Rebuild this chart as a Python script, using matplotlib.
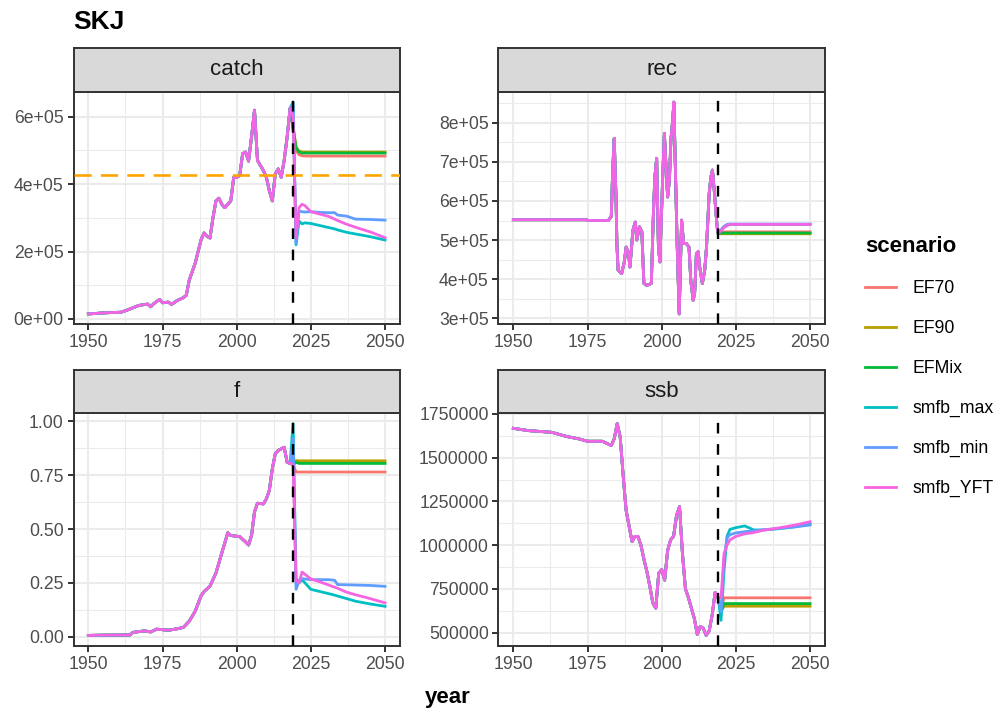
import numpy as np
import matplotlib
matplotlib.use("Agg")
import matplotlib.pyplot as plt
from matplotlib.lines import Line2D

plt.rcParams['font.family'] = ['Liberation Sans', 'DejaVu Sans']

scenarios = ["EF70", "EF90", "EFMix", "smfb_max", "smfb_min", "smfb_YFT"]
colours = ["#F8766D", "#B79F00", "#00BA38", "#00BFC4", "#619CFF", "#F564E3"]

# historic part, shared by every scenario
catch_hist_year = [1950, 1952, 1955, 1958, 1961, 1963, 1965, 1967, 1969, 1970, 1971, 1972,
                   1974, 1975, 1977, 1978, 1980, 1982, 1983, 1984, 1986, 1988, 1989, 1990,
                   1991, 1992, 1993, 1994, 1995, 1996, 1997, 1998, 1999, 2000, 2001, 2002,
                   2003, 2004, 2005, 2006, 2007, 2008, 2009, 2010, 2011, 2012, 2013, 2014,
                   2015, 2016, 2017, 2018]
catch_hist = [15, 16, 18, 19, 20, 26, 33, 40, 43, 44, 36, 45,
              58, 48, 50, 43, 55, 63, 70, 115, 165, 235, 255, 245,
              240, 300, 350, 358, 340, 330, 340, 350, 420, 420, 425, 490,
              495, 468, 540, 619, 470, 455, 440, 420, 380, 350, 430, 445,
              420, 470, 540, 625]

rec_hist_year = [1950, 1974.7, 1975, 1982, 1983, 1983.5, 1984, 1984.6, 1984.9, 1985.3, 1986.5,
                 1987.4, 1988, 1988.8, 1989.3, 1990.3, 1991.1, 1991.6, 1992.5, 1993.3, 1994,
                 1995, 1996.5, 1997.2, 1997.7, 1998.3, 1998.9, 1999.4, 2000.3, 2000.9, 2001.4,
                 2002, 2002.6, 2003.1, 2003.7, 2004.1, 2004.7, 2005.2, 2005.9, 2006.7, 2007.4,
                 2008.3, 2009.2, 2009.8, 2010.6, 2011.1, 2011.7, 2012.3, 2012.8, 2013.7, 2014.5,
                 2015.1, 2016, 2016.6, 2017.1, 2017.7, 2018.3, 2018.8]
rec_hist = [552, 552, 550, 550, 560, 680, 760, 610, 491, 423, 414,
            444, 482, 466, 431, 525, 546, 500, 534, 521, 389,
            384, 389, 568, 662, 709, 482, 444, 653, 773, 696,
            610, 653, 756, 807, 853, 653, 491, 311, 551, 491,
            491, 482, 397, 346, 364, 466, 470, 431, 389, 423,
            482, 619, 662, 679, 628, 568, 525]

f_hist_year = [1950, 1954, 1964, 1965, 1969, 1971, 1973, 1977, 1980, 1982, 1984, 1986, 1988,
               1989, 1991, 1993, 1995, 1997, 1998, 2001, 2003, 2004, 2005, 2006, 2007, 2009,
               2010, 2011, 2012, 2013, 2014, 2015, 2016, 2017, 2018]
f_hist = [0.006, 0.007, 0.008, 0.02, 0.027, 0.022, 0.035, 0.03, 0.037, 0.043, 0.072, 0.118, 0.19,
          0.21, 0.235, 0.295, 0.39, 0.483, 0.47, 0.465, 0.44, 0.426, 0.47, 0.58, 0.62, 0.617,
          0.64, 0.68, 0.78, 0.85, 0.865, 0.873, 0.88, 0.81, 0.805]

ssb_hist_year = [1950, 1955, 1963, 1968, 1972, 1975, 1980, 1983, 1984, 1985, 1986, 1987, 1988,
                 1989, 1990, 1991, 1992, 1993, 1994, 1995, 1996, 1997, 1998, 1999, 2000, 2001,
                 2002, 2003, 2004, 2005, 2006, 2007, 2008, 2009, 2010, 2011, 2012, 2013, 2014,
                 2015, 2016, 2017, 2018]
ssb_hist = [1.668, 1.655, 1.645, 1.621, 1.608, 1.594, 1.594, 1.57, 1.608, 1.695, 1.62, 1.40, 1.20,
            1.11, 1.02, 1.05, 1.05, 1.00, 0.92, 0.85, 0.765, 0.67, 0.64, 0.84, 0.86, 0.80,
            0.97, 1.03, 1.05, 1.17, 1.22, 0.95, 0.75, 0.70, 0.64, 0.58, 0.49, 0.535, 0.525,
            0.484, 0.51, 0.60, 0.73]

# projections
proj_year = [2019, 2020, 2021, 2022, 2023, 2025, 2028, 2031, 2033, 2034, 2037, 2040, 2045, 2050]

catch_proj = {
    "EF70":     [560, 500, 487, 484, 483, 483, 483, 483, 483, 483, 483, 483, 483, 483],
    "EF90":     [570, 510, 498, 495, 495, 495, 495, 495, 495, 495, 495, 495, 495, 495],
    "EFMix":    [568, 507, 495, 492, 492, 492, 492, 492, 492, 492, 492, 492, 492, 492],
    "smfb_max": [643, 220, 290, 282, 285, 283, 277, 271, 267, 264, 257, 252, 244, 234],
    "smfb_min": [640, 225, 320, 318, 317, 318, 316, 315, 315, 308, 305, 296, 295, 293],
    "smfb_YFT": [600, 240, 330, 340, 336, 318, 311, 304, 296, 292, 281, 272, 258, 241],
}
rec_proj = {
    "EF70":     [517, 520, 521, 521, 521, 521, 521, 521, 521, 521, 521, 521, 521, 521],
    "EF90":     [517, 516, 516, 516, 516, 516, 516, 516, 516, 516, 516, 516, 516, 516],
    "EFMix":    [517, 518, 518, 518, 518, 518, 518, 518, 518, 518, 518, 518, 518, 518],
    "smfb_max": [517, 525, 533, 538, 540, 540, 540, 540, 540, 540, 540, 540, 540, 540],
    "smfb_min": [517, 526, 535, 540, 541, 541, 541, 541, 541, 541, 541, 541, 541, 541],
    "smfb_YFT": [517, 524, 532, 537, 540, 540, 540, 540, 540, 540, 540, 540, 540, 540],
}
f_proj = {
    "EF70":     [0.80, 0.765, 0.765, 0.765, 0.765, 0.765, 0.765, 0.765, 0.765, 0.765, 0.765, 0.765, 0.765, 0.765],
    "EF90":     [0.80, 0.818, 0.817, 0.817, 0.817, 0.817, 0.817, 0.817, 0.817, 0.817, 0.817, 0.817, 0.817, 0.817],
    "EFMix":    [0.80, 0.81, 0.805, 0.805, 0.805, 0.805, 0.805, 0.805, 0.805, 0.805, 0.805, 0.805, 0.805, 0.805],
    "smfb_max": [0.99, 0.27, 0.25, 0.265, 0.25, 0.22, 0.21, 0.20, 0.193, 0.189, 0.177, 0.165, 0.152, 0.141],
    "smfb_min": [0.92, 0.22, 0.26, 0.27, 0.268, 0.265, 0.265, 0.265, 0.262, 0.242, 0.241, 0.24, 0.238, 0.234],
    "smfb_YFT": [0.80, 0.26, 0.25, 0.30, 0.29, 0.268, 0.255, 0.24, 0.23, 0.225, 0.207, 0.195, 0.177, 0.157],
}
ssb_proj = {
    "EF70":     [0.70, 0.63, 0.699, 0.699, 0.699, 0.699, 0.699, 0.699, 0.699, 0.699, 0.699, 0.699, 0.699, 0.699],
    "EF90":     [0.70, 0.62, 0.651, 0.651, 0.651, 0.651, 0.651, 0.651, 0.651, 0.651, 0.651, 0.651, 0.651, 0.651],
    "EFMix":    [0.70, 0.62, 0.666, 0.666, 0.666, 0.666, 0.666, 0.666, 0.666, 0.666, 0.666, 0.666, 0.666, 0.666],
    "smfb_max": [0.70, 0.57, 0.85, 1.05, 1.09, 1.10, 1.11, 1.087, 1.087, 1.087, 1.09, 1.095, 1.105, 1.12],
    "smfb_min": [0.70, 0.62, 0.92, 1.04, 1.06, 1.07, 1.077, 1.082, 1.085, 1.087, 1.092, 1.097, 1.105, 1.115],
    "smfb_YFT": [0.70, 0.70, 0.95, 1.00, 1.03, 1.05, 1.065, 1.072, 1.08, 1.085, 1.092, 1.10, 1.115, 1.134],
}

catch_ref = 427  # orange reference line (thousand t)
last_hist_year = 2019

catch_ticks = [0, 2e5, 4e5, 6e5]
catch_labels = ["0e+00", "2e+05", "4e+05", "6e+05"]
rec_ticks = [3e5, 4e5, 5e5, 6e5, 7e5, 8e5]
rec_labels = ["3e+05", "4e+05", "5e+05", "6e+05", "7e+05", "8e+05"]
f_ticks = [0, 0.25, 0.5, 0.75, 1.0]
f_labels = ["0.00", "0.25", "0.50", "0.75", "1.00"]
ssb_ticks = [500000, 750000, 1000000, 1250000, 1500000, 1750000]
ssb_labels = [str(t) for t in ssb_ticks]
year_ticks = [1950, 1975, 2000, 2025, 2050]

W, H = 1003, 710
fig = plt.figure(figsize=(W / 100, H / 100), dpi=100)

grey20 = "#333333"
tick_size = 12.7


def expand(vals):
    lo, hi = min(vals), max(vals)
    r = hi - lo
    return lo - 0.05 * r, hi + 0.05 * r


def panel(px, py, name, hyear, hval, proj, scale, ticks, labels, hline=None):
    pw, ph = 326.4, 233.0
    ax = fig.add_axes([px / W, 1 - (py + ph) / H, pw / W, ph / H])
    sax = fig.add_axes([px / W, 1 - py / H, pw / W, 43.5 / H])
    allv = []
    for sc, col in zip(scenarios, colours):
        x = list(hyear) + proj_year
        y = np.array(list(hval) + proj[sc]) * scale
        allv += list(y)
        ax.plot(x, y, color=col, lw=2.0, zorder=3, solid_joinstyle='round')
    if hline is not None:
        ax.axhline(hline * scale, color="#FFA500", lw=1.9, dashes=(6.5, 3.5), zorder=4)
        allv.append(hline * scale)
    ax.axvline(last_hist_year, color="black", lw=1.7, dashes=(4.5, 4.5), zorder=5)
    ax.set_xlim(expand([1950, 2050]))
    ylo, yhi = expand(allv)
    ax.set_ylim(ylo, yhi)

    ax.set_xticks(year_ticks)
    ax.set_xticks([1962.5, 1987.5, 2012.5, 2037.5], minor=True)
    ax.set_yticks(ticks)
    ax.set_yticklabels(labels)
    step = ticks[1] - ticks[0]
    minors = [t + step / 2 for t in [ticks[0] - step] + ticks]
    ax.set_yticks([m for m in minors if ylo < m < yhi], minor=True)

    ax.set_facecolor("white")
    ax.grid(which="major", color="#EBEBEB", lw=1.5, zorder=0)
    ax.grid(which="minor", color="#EBEBEB", lw=0.75, zorder=0)
    ax.set_axisbelow(True)
    for s in ax.spines.values():
        s.set_color(grey20)
        s.set_linewidth(1.4)
    ax.tick_params(which="major", length=4, width=1.4, color=grey20,
                   labelsize=tick_size, labelcolor="#4D4D4D", pad=3)
    ax.tick_params(which="minor", length=0)

    sax.set_facecolor("#D9D9D9")
    sax.set_xticks([])
    sax.set_yticks([])
    for s in sax.spines.values():
        s.set_color(grey20)
        s.set_linewidth(1.4)
    sax.text(0.5, 0.5, name, ha="center", va="center", fontsize=16,
             color="#1A1A1A", transform=sax.transAxes)
    return ax


panel(73.5, 91.5, "catch", catch_hist_year, catch_hist, catch_proj, 1000,
      catch_ticks, catch_labels, hline=catch_ref)
panel(498.5, 91.5, "rec", rec_hist_year, rec_hist, rec_proj, 1000, rec_ticks, rec_labels)
panel(73.5, 413, "f", f_hist_year, f_hist, f_proj, 1, f_ticks, f_labels)
panel(498.5, 413, "ssb", ssb_hist_year, ssb_hist, ssb_proj, 1e6, ssb_ticks, ssb_labels)

fig.text(73 / W, 1 - 22 / H, "SKJ", fontsize=19, fontweight="bold", ha="left", va="center")
fig.text(448 / W, 1 - 697 / H, "year", fontsize=16, fontweight="bold", ha="center", va="center")

handles = [Line2D([], [], color=c, lw=2.0) for c in colours]
fig.legend(handles, scenarios, loc="upper left", bbox_to_anchor=(865 / W, 1 - 236 / H),
           frameon=False, title="scenario",
           title_fontproperties={"weight": "bold", "size": 16},
           fontsize=tick_size, handlelength=1.75, handletextpad=0.96,
           labelspacing=1.3, alignment="left", borderpad=0, borderaxespad=0)

fig.savefig("out.png", dpi=100)
